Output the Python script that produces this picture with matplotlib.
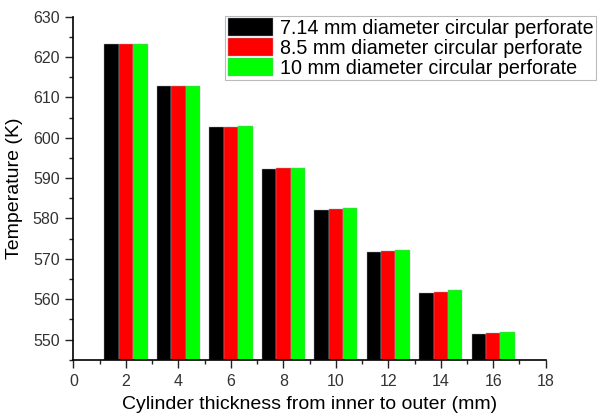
import matplotlib
matplotlib.use("Agg")
import matplotlib.pyplot as plt
import matplotlib.ticker as pltticker
import numpy as np

plt.rcParams['font.family'] = ['Liberation Sans', 'DejaVu Sans']

thickness = [2, 4, 6, 8, 10, 12, 14, 16]
temp_714 = [623.2, 612.8, 602.6, 592.3, 582.1, 571.7, 561.5, 551.3]
temp_85 = [623.2, 612.8, 602.7, 592.4, 582.3, 572.0, 561.8, 551.7]
temp_10 = [623.2, 612.9, 602.8, 592.6, 582.5, 572.3, 562.2, 552.0]
labels = ["7.14 mm diameter circular perforate",
          "8.5 mm diameter circular perforate",
          "10 mm diameter circular perforate"]
colors = ["#000000", "#ff0000", "#00ff00"]

fig = plt.figure(figsize=(6.07, 4.15), dpi=100)
ax = fig.add_axes([0.121, 0.133, 0.778, 0.827])

x = np.array(thickness, dtype=float)
w = 0.55
base = 545
for i, (vals, lab, col) in enumerate(zip([temp_714, temp_85, temp_10], labels, colors)):
    v = np.array(vals)
    ax.bar(x + (i - 1) * w, v - base, bottom=base, width=w, color=col,
           label=lab, edgecolor="#9aa6b0", linewidth=0.3)

ax.set_xlim(0, 18)
ax.set_ylim(545, 630)
ax.xaxis.set_major_locator(pltticker.MultipleLocator(2))
ax.xaxis.set_minor_locator(pltticker.MultipleLocator(1))
ax.yaxis.set_major_locator(pltticker.MultipleLocator(10))
ax.yaxis.set_minor_locator(pltticker.MultipleLocator(5))
ax.tick_params(which="major", length=6, width=1, labelsize=11.5, colors="#222222", pad=4)
ax.tick_params(which="minor", length=3, width=1, colors="#222222")
ax.tick_params(axis="both", which="both", labelcolor="#333333")

ax.spines["top"].set_visible(False)
ax.spines["right"].set_visible(False)
ax.spines["left"].set_linewidth(1.2)
ax.spines["bottom"].set_linewidth(1.2)

ax.set_xlabel("Cylinder thickness from inner to outer (mm)", fontsize=14, labelpad=5)
ax.set_ylabel("Temperature (K)", fontsize=14, labelpad=7)

leg = ax.legend(loc="upper left", bbox_to_anchor=(0.371, 0.962), bbox_transform=fig.transFigure,
                fontsize=14.2, frameon=True, fancybox=False, edgecolor="#aaaaaa",
                handlelength=2.3, handleheight=1.05, labelspacing=0.0,
                handletextpad=0.35, borderpad=0.12, borderaxespad=0)
leg.get_frame().set_linewidth(0.8)

fig.savefig("out.png", dpi=100)
